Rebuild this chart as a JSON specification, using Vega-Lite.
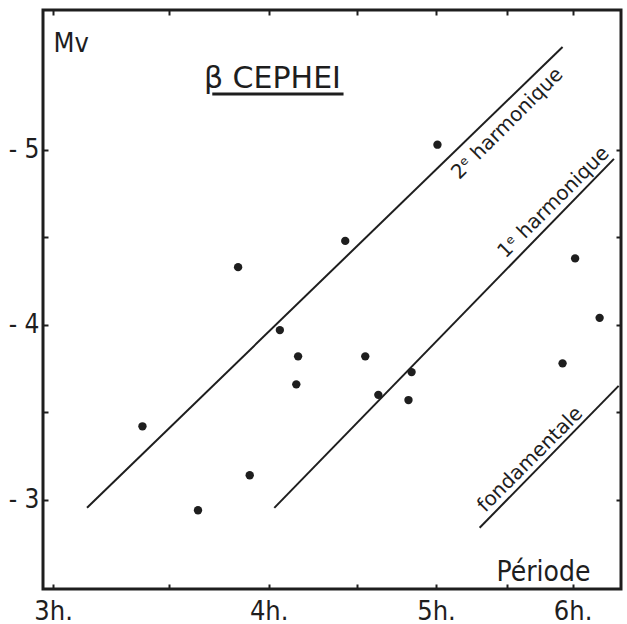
{
  "$schema": "https://vega.github.io/schema/vega-lite/v6.json",
  "width": 578,
  "height": 579,
  "autosize": {"type": "none"},
  "padding": {"left": 43, "top": 10, "right": 6, "bottom": 35},
  "background": "white",
  "config": {
    "view": {"stroke": "#1e1e1e", "strokeWidth": 3},
    "axis": {
      "domain": false,
      "grid": false,
      "tickColor": "#1e1e1e",
      "tickWidth": 2,
      "tickSize": -5,
      "labelColor": "#1e1e1e",
      "titleColor": "#1e1e1e",
      "labelFont": "DejaVu Sans Condensed, Liberation Sans Narrow, DejaVu Sans",
      "titleFont": "DejaVu Sans Condensed, Liberation Sans Narrow, DejaVu Sans"
    }
  },
  "datasets": {
    "etoiles": [
      {"periode": 3.38, "mv": -3.42},
      {"periode": 3.64, "mv": -2.94},
      {"periode": 3.84, "mv": -4.33},
      {"periode": 3.90, "mv": -3.14},
      {"periode": 4.06, "mv": -3.97},
      {"periode": 4.16, "mv": -3.82},
      {"periode": 4.15, "mv": -3.66},
      {"periode": 4.43, "mv": -4.48},
      {"periode": 4.55, "mv": -3.82},
      {"periode": 4.63, "mv": -3.60},
      {"periode": 4.84, "mv": -3.73},
      {"periode": 4.82, "mv": -3.57},
      {"periode": 5.01, "mv": -5.03},
      {"periode": 5.92, "mv": -3.78},
      {"periode": 6.02, "mv": -4.38},
      {"periode": 6.22, "mv": -4.04}
    ],
    "droites": [
      {"serie": "2e harmonique", "periode": 3.139, "mv": -2.954},
      {"serie": "2e harmonique", "periode": 5.92, "mv": -5.589},
      {"serie": "1e harmonique", "periode": 4.03, "mv": -2.954},
      {"serie": "1e harmonique", "periode": 6.34, "mv": -4.949},
      {"serie": "fondamentale", "periode": 5.30, "mv": -2.84},
      {"serie": "fondamentale", "periode": 6.38, "mv": -3.651}
    ],
    "etiquettes": [
      {"texte": "2ᵉ harmonique", "periode": 5.50, "mv": -5.15},
      {"texte": "1ᵉ harmonique", "periode": 5.85, "mv": -4.70},
      {"texte": "fondamentale", "periode": 5.67, "mv": -3.23}
    ],
    "titre": [
      {"texte": "β CEPHEI", "periode": 4.02, "mv": -5.354, "debut": 3.71, "fin": 4.42, "souligne": -5.32}
    ]
  },
  "layer": [
    {
      "data": {"name": "droites"},
      "mark": {"type": "line", "color": "#1e1e1e", "strokeWidth": 2},
      "encoding": {
        "x": {
          "field": "periode", "type": "quantitative",
          "scale": {"type": "log", "domain": [2.96, 6.4], "nice": false, "zero": false},
          "axis": {"orient": "top", "values": [3, 3.5, 4, 4.5, 5, 5.5, 6], "labels": false, "title": null}
        },
        "y": {
          "field": "mv", "type": "quantitative",
          "scale": {"domain": [-5.8, -2.49], "reverse": true, "nice": false, "zero": false},
          "axis": {"orient": "right", "values": [-5, -4.5, -4, -3.5, -3], "labels": false, "title": null}
        },
        "detail": {"field": "serie"}
      }
    },
    {
      "data": {"name": "etoiles"},
      "mark": {"type": "circle", "color": "#1e1e1e", "opacity": 1, "size": 70},
      "encoding": {
        "x": {
          "field": "periode", "type": "quantitative",
          "axis": {
            "orient": "bottom",
            "values": [3, 3.5, 4, 4.5, 5, 5.5, 6],
            "labelExpr": "datum.value % 1 === 0 ? datum.value + 'h.' : ''",
            "labelFontSize": 27,
            "labelPadding": 14,
            "labelFlush": false,
            "title": "Période",
            "titleFontSize": 28,
            "titleFontWeight": "normal",
            "titleX": 500,
            "titleY": -9,
            "titleAlign": "center",
            "titleBaseline": "alphabetic"
          }
        },
        "y": {
          "field": "mv", "type": "quantitative",
          "axis": {
            "orient": "left",
            "values": [-5, -4.5, -4, -3.5, -3],
            "labelExpr": "datum.value % 1 === 0 ? '- ' + abs(datum.value) : ''",
            "labelFontSize": 26,
            "labelPadding": 9,
            "title": "Mv",
            "titleFontSize": 27,
            "titleFontWeight": "normal",
            "titleAngle": 0,
            "titleX": 10,
            "titleY": 41,
            "titleAlign": "left",
            "titleBaseline": "alphabetic"
          }
        }
      }
    },
    {
      "data": {"name": "etiquettes"},
      "mark": {"type": "text", "font": "DejaVu Sans", "fontSize": 20, "angle": -45, "align": "center", "baseline": "middle", "color": "#1e1e1e"},
      "encoding": {
        "x": {"field": "periode", "type": "quantitative", "axis": null},
        "y": {"field": "mv", "type": "quantitative", "axis": null},
        "text": {"field": "texte"}
      }
    },
    {
      "data": {"name": "titre"},
      "mark": {"type": "text", "font": "DejaVu Sans", "fontSize": 30, "align": "center", "baseline": "alphabetic", "color": "#1e1e1e"},
      "encoding": {
        "x": {"field": "periode", "type": "quantitative", "axis": null},
        "y": {"field": "mv", "type": "quantitative", "axis": null},
        "text": {"field": "texte"}
      }
    },
    {
      "data": {"name": "titre"},
      "mark": {"type": "rule", "color": "#1e1e1e", "strokeWidth": 3},
      "encoding": {
        "x": {"field": "debut", "type": "quantitative", "axis": null},
        "x2": {"field": "fin"},
        "y": {"field": "souligne", "type": "quantitative", "axis": null}
      }
    }
  ],
  "resolve": {"axis": {"x": "independent", "y": "independent"}}
}
